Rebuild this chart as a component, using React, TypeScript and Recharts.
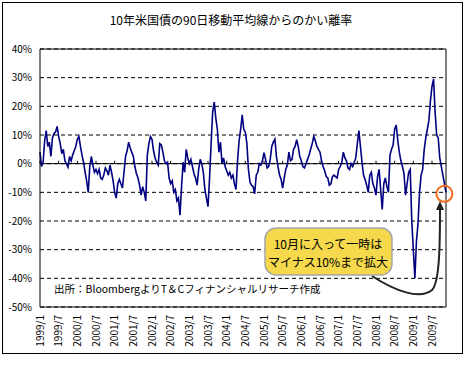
import { LineChart, Line, XAxis, YAxis, CartesianGrid, ReferenceLine, ReferenceDot } from 'recharts';

// deviation from 90-day moving average (%), two readings per month
const y1999 = [4, -1, 0.5, 8, 11.5, 6, 7.5, 2.5, 9, 10.5, 11, 13, 9.5, 7, 3.5, 5, 1, 0, -1.2, 2.5, 1, 3, 4.5, 6];
const y2000 = [8.5, 9.5, 6, 3, 0.5, -3, -6, -10, -1, 2.5, -0.5, -3, -2, -3.5, -2, -5, -5.5, -4, -1.5, -2.5, -4, -0.5, -3, -6];
const y2001 = [-10, -12, -7, -5.5, -7, -8.5, -3, 2.5, 4.5, 7.5, 5.5, 4, 2.5, -1, -3.5, -5, -7.5, -11, -8, -10, -13, 3, 7, 9.5];
const y2002 = [8.5, 4.5, 2, 0.5, -0.5, 7, 6.5, 4, 1, 0, 0.5, -5, -7, -6, -10, -9, -13, -12, -18, -8, 0.5, -3, 5, 2];
const y2003 = [0, 1.5, -1, -3.5, -5, -7.5, -2, 1.5, 0, -3, -9, -12, -15, -5, 7, 18, 21.5, 16, 12, 4, 7.5, 0, 2, -1];
const y2004 = [-2.5, -4, -3, -5, -4, -7, -9, 1, 8, 12, 17, 12, 11, 7, -2, -6.5, -7.5, -8, -10.5, -4, -3, 0, -0.5, 1];
const y2005 = [3.8, 1.5, -1.5, -1, 1.5, 6, 7.5, 8.5, 2.5, -1, -4, -5.5, -8.5, -5, -2, -0.5, 4, 1, 1.5, 5, 6, 8.4, 6, 2.5];
const y2006 = [1, -1, -1.5, 0, 1.5, 3, 5, 7, 9.5, 8, 6, 5, 4, 1, -1, -2.5, -4.5, -5, -7.5, -7, -4.5, -4, -4.5, -5];
const y2007 = [-2, -1, 0.5, 4, 2, 1, -1.5, -2, 0, -1, 0.5, 2, 7, 11.5, 6, 0.5, -4, -5.5, -7.5, -10, -4, -3, -7, -8.5];
const y2008 = [-11, -4.5, -2, -9, -16, -7, -5, -8, -10, 3, 5, 6.5, 12, 13.5, 8, 4, 1, -1, -3.5, -11, -7, -3, -2, -20];
const y2009 = [-30, -40, -27, -21, -10, -4, -2, 5, 9, 12, 15, 22, 27, 29.5, 18, 10, 9, 2, -1, -4, -7, -10];

const years = [y1999, y2000, y2001, y2002, y2003, y2004, y2005, y2006, y2007, y2008, y2009];

// x ticks in months since 1999/1
const tickMonths = [0, 6, 12, 18, 24, 30, 36, 42, 48, 54, 60, 66, 72, 78, 84, 90, 96, 102, 108, 114, 120, 126];
const tickLabels = [
  '1999/1', '1999/7', '2000/1', '2000/7', '2001/1', '2001/7', '2002/1', '2002/7', '2003/1', '2003/7', '2004/1',
  '2004/7', '2005/1', '2005/7', '2006/1', '2006/7', '2007/1', '2007/7', '2008/1', '2008/7', '2009/1', '2009/7',
];
const yTicks = [40, 30, 20, 10, 0, -10, -20, -30, -40, -50];

const data = years.flatMap((vals, yi) => vals.map((v, i) => ({ m: yi * 12 + i / 2, v })));

const XTick = ({ x, y, payload }: any) => (
  <text
    x={x}
    y={y}
    transform={`rotate(-90, ${x}, ${y})`}
    textAnchor="end"
    dy="0.35em"
    fontSize={10}
    fill="#000"
  >
    {tickLabels[tickMonths.indexOf(payload.value)]}
  </text>
);

export default function App() {
  return (
    <div
      style={{
        position: 'absolute',
        left: 0,
        top: 0,
        width: 467,
        height: 365,
        background: '#fff',
        fontFamily: '"Noto Sans CJK JP", sans-serif',
      }}
    >
      <div
        style={{
          position: 'absolute',
          left: 2,
          top: 2,
          width: 461,
          height: 352,
          boxSizing: 'border-box',
          border: '1px solid #000',
        }}
      />
      <div style={{ position: 'absolute', left: 0, top: 11, width: 462, textAlign: 'center', fontSize: 12 }}>
        10年米国債の90日移動平均線からのかい離率
      </div>
      <div style={{ position: 'absolute', left: 0, top: 0 }}>
        <LineChart width={467} height={365} data={data} margin={{ top: 49, right: 21, bottom: 8, left: 0 }}>
          <CartesianGrid vertical={false} stroke="#000" strokeDasharray="4 3" />
          <XAxis
            dataKey="m"
            type="number"
            domain={[0, 130.5]}
            ticks={tickMonths}
            interval={0}
            height={50}
            tick={<XTick />}
            tickLine={false}
            axisLine={{ stroke: '#000' }}
          />
          <YAxis
            domain={[-50, 40]}
            ticks={yTicks}
            width={40}
            interval={0}
            tickLine={false}
            axisLine={{ stroke: '#000' }}
            tick={{ fontSize: 10, fill: '#000' }}
            tickFormatter={(v: number) => `${v}%`}
          />
          <ReferenceLine y={40} stroke="#000" />
          <ReferenceLine y={0} stroke="#000" />
          <ReferenceLine x={130.5} stroke="#000" />
          {tickMonths.map((t) => (
            <ReferenceLine
              key={t}
              segment={[
                { x: t, y: 0 },
                { x: t, y: 1 },
              ]}
              stroke="#000"
            />
          ))}
          <Line
            type="linear"
            dataKey="v"
            stroke="#000080"
            strokeWidth={1.6}
            dot={false}
            isAnimationActive={false}
          />
          <ReferenceDot x={130} y={-10.5} r={8} fill="none" stroke="#F26B1D" strokeWidth={2} />
        </LineChart>
      </div>
      <svg width={467} height={365} style={{ position: 'absolute', left: 0, top: 0, pointerEvents: 'none' }}>
        <path
          d="M 372 276 C 395 291, 420 300, 432 290 C 440 282, 440 240, 440 208"
          fill="none"
          stroke="#222"
          strokeWidth={2}
        />
        <polygon points="440,201 436,210 444,210" fill="#222" />
        <rect x={265} y={228} width={127} height={47} rx={11} fill="#F5D84C" stroke="#A6A6A6" strokeWidth={1.5} />
        <text x={328} y={249} textAnchor="middle" fontSize={12} fill="#000">10月に入って一時は</text>
        <text x={328} y={267} textAnchor="middle" fontSize={12} fill="#000">マイナス10%まで拡大</text>
        <text x={54} y={293} fontSize={10.5} fill="#000">出所：BloombergよりT＆Cフィナンシャルリサーチ作成</text>
      </svg>
    </div>
  );
}
